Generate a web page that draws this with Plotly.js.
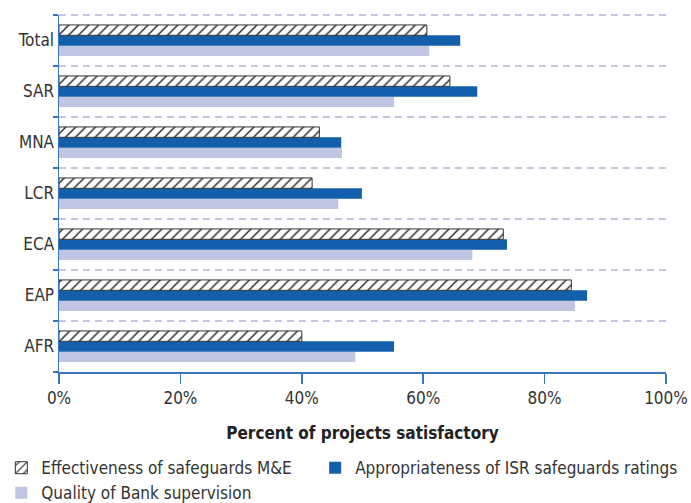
<!DOCTYPE html>
<html>
<head>
<meta charset="utf-8">
<script src="https://cdn.plot.ly/plotly-3.0.1.min.js"></script>
<style>html,body{margin:0;padding:0;background:#fff;}#chart{width:691px;height:503px;}</style>
</head>
<body>
<div id="chart"></div>
<script>
const categories = ["AFR", "EAP", "ECA", "LCR", "MNA", "SAR", "Total"];
const effectivenessME = [40.0, 84.4, 73.2, 41.7, 42.9, 64.4, 60.6];
const appropriatenessISR = [55.2, 87.0, 73.8, 49.9, 46.5, 68.9, 66.1];
const qualitySupervision = [48.8, 85.0, 68.1, 46.0, 46.6, 55.2, 61.0];
const xTickVals = [0, 20, 40, 60, 80, 100];
const xTickText = ["0%", "20%", "40%", "60%", "80%", "100%"];

const FONT = '"DejaVu Sans Condensed", "Liberation Sans", Arial, sans-serif';
const AXIS_BLUE = '#3a74bd';
const GRID = '#c3c9e3';

const traces = [
  {
    type: 'bar', orientation: 'h', name: 'Quality of Bank supervision',
    y: categories, x: qualitySupervision,
    marker: {color: '#bfc5e2', line: {width: 0}},
    legend: 'legend', legendrank: 2
  },
  {
    type: 'bar', orientation: 'h', name: 'Appropriateness of ISR safeguards ratings',
    y: categories, x: appropriatenessISR,
    marker: {color: '#135fac', line: {width: 0}},
    legend: 'legend2', legendrank: 1
  },
  {
    type: 'bar', orientation: 'h', name: 'Effectiveness of safeguards M&E',
    y: categories, x: effectivenessME,
    marker: {
      color: '#ffffff',
      line: {color: '#333333', width: 1},
      pattern: {shape: '/', bgcolor: '#ffffff', fgcolor: '#222222', size: 7, solidity: 0.2}
    },
    legend: 'legend', legendrank: 1
  }
];

const legendCommon = {
  orientation: 'v', xanchor: 'left', yanchor: 'top',
  font: {family: FONT, size: 17, color: '#333333'},
  itemwidth: 30, tracegroupgap: 0, bgcolor: 'rgba(0,0,0,0)', traceorder: 'normal'
};

const layout = {
  width: 691, height: 503,
  margin: {l: 59, r: 25, t: 15, b: 131, autoexpand: false},
  paper_bgcolor: '#ffffff', plot_bgcolor: '#ffffff',
  font: {family: FONT, size: 17, color: '#333333'},
  barmode: 'group', bargap: 0.39, bargroupgap: 0,
  showlegend: true,
  legend: Object.assign({}, legendCommon, {x: -0.095, y: -0.219}),
  legend2: Object.assign({}, legendCommon, {x: 0.422, y: -0.219}),
  xaxis: {
    range: [0, 100], tickvals: xTickVals, ticktext: xTickText,
    showgrid: false, zeroline: false,
    showline: true, linecolor: AXIS_BLUE, linewidth: 1.5,
    ticks: 'outside', ticklen: 10, tickcolor: AXIS_BLUE, tickwidth: 1.5,
    tickfont: {family: FONT, size: 17, color: '#333333'},
    title: {text: '<b>Percent of projects satisfactory</b>', font: {family: FONT, size: 17, color: '#222222'}, standoff: 20},
    fixedrange: true
  },
  yaxis: {
    type: 'category', categoryorder: 'array', categoryarray: categories,
    range: [-0.5, 6.5],
    tickson: 'boundaries', ticks: 'outside', ticklen: 5, tickcolor: AXIS_BLUE, tickwidth: 1.5,
    showgrid: true, gridcolor: GRID, griddash: '7px,5px', gridwidth: 2,
    showline: true, linecolor: AXIS_BLUE, linewidth: 1.5,
    tickfont: {family: FONT, size: 17, color: '#333333'},
    zeroline: false, fixedrange: true
  },
  shapes: [
    {type: 'line', xref: 'paper', yref: 'paper', x0: 0, x1: 1, y0: 1, y1: 1,
     line: {color: GRID, width: 2, dash: '7px,5px'}, layer: 'below'}
  ]
};

Plotly.newPlot('chart', traces, layout, {displayModeBar: false, staticPlot: true});
</script>
</body>
</html>
